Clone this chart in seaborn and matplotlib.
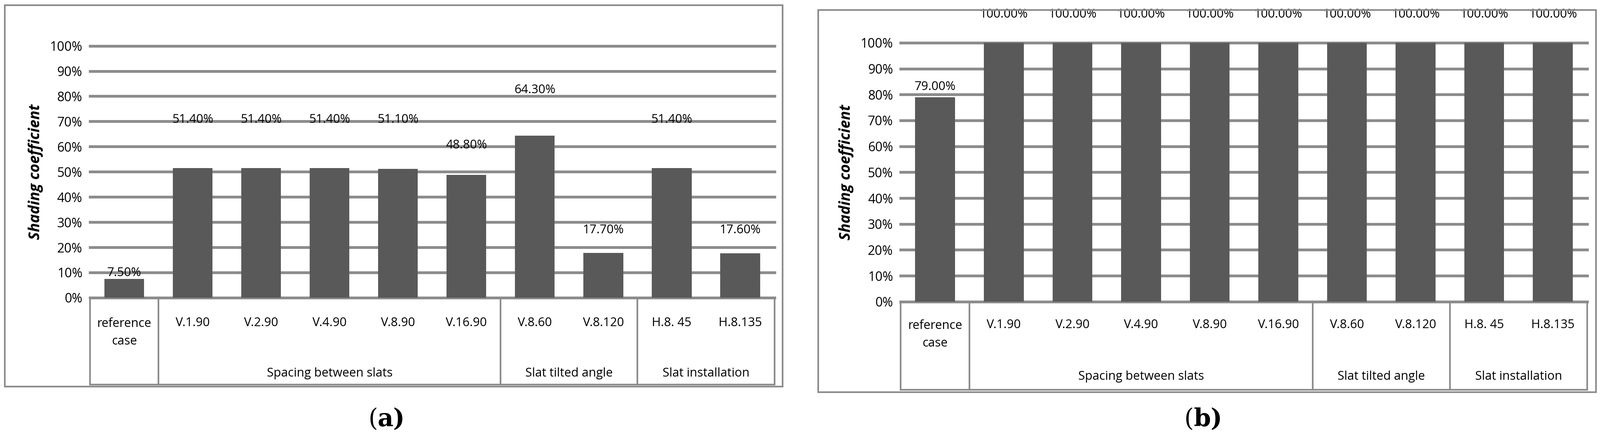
import matplotlib
matplotlib.use("Agg")
import matplotlib.pyplot as plt
import seaborn as sns
import pandas as pd
from matplotlib.patches import Rectangle

categories = ["reference\ncase", "V.1.90", "V.2.90", "V.4.90", "V.8.90", "V.16.90",
              "V.8.60", "V.8.120", "H.8. 45", "H.8.135"]
values_a = [7.5, 51.4, 51.4, 51.4, 51.1, 48.8, 64.3, 17.7, 51.4, 17.6]
values_b = [79.0, 100, 100, 100, 100, 100, 100, 100, 100, 100]
groups = ["Spacing between slats", "Slat tilted angle", "Slat installation"]
group_spans = [(1, 5), (6, 7), (8, 9)]
ytick_labels = [f"{v}%" for v in range(0, 101, 10)]

FONT = "Open Sans"
GRID = "#8c8c8c"
BAR = "#595959"

fig = plt.figure(figsize=(39.99, 11.02), dpi=100)

def panel(rect, border, vals, lab_y, tbl_bottom, cat_y, grp_y, letter_x, letter):
    ax = fig.add_axes(rect)
    df = pd.DataFrame({"cat": categories, "val": vals})
    sns.barplot(data=df, x="cat", y="val", color=BAR, saturation=1, width=0.58, ax=ax, zorder=3)
    ax.set_ylim(0, 100)
    ax.set_xlim(-0.5, 9.5)
    ax.set_yticks(range(0, 101, 10))
    ax.set_yticklabels(ytick_labels, fontsize=23, family=FONT)
    ax.tick_params(axis="y", length=0, pad=14)
    ax.set_xticks([])
    ax.set_xlabel("")
    ax.set_ylabel("Shading coefficient", fontsize=27, fontweight="bold", style="italic",
                  family=FONT, labelpad=12)
    for s in ax.spines.values():
        s.set_visible(False)
    for v in range(0, 101, 10):
        ax.axhline(v, color=GRID, lw=5, zorder=1, clip_on=False)
    for i, (v, ly) in enumerate(zip(vals, lab_y)):
        ax.text(i, ly, f"{v:.2f}%", ha="center", va="center", fontsize=22, family=FONT)
    # table
    for xb in [-0.5, 0.5, 5.5, 7.5, 9.5]:
        ax.plot([xb, xb], [0, tbl_bottom], color=GRID, lw=3, clip_on=False)
    ax.plot([-0.5, 9.5], [tbl_bottom, tbl_bottom], color=GRID, lw=3, clip_on=False)
    for i, c in enumerate(categories):
        if "\n" in c:
            ax.text(i, cat_y + 2, c, ha="center", va="top", fontsize=22, family=FONT,
                    linespacing=1.6)
        else:
            ax.text(i, cat_y, c, ha="center", va="center", fontsize=22, family=FONT)
    for g, (a, b) in zip(groups, group_spans):
        ax.text((a + b) / 2, grp_y, g, ha="center", va="center", fontsize=22, family=FONT)
    fig.add_artist(Rectangle((border[0], border[1]), border[2], border[3],
                             transform=fig.transFigure, fill=False, edgecolor="#8c8c8c", lw=3))
    fig.text(letter_x, 0.05, "(", fontsize=44, family="DejaVu Serif", ha="right", va="center")
    fig.text(letter_x, 0.05, letter, fontsize=44, family="DejaVu Serif", fontweight="bold",
             ha="left", va="center")
    return ax

lab_a = [9.8, 70.7, 70.7, 70.7, 70.7, 60.6, 82.5, 26.8, 70.7, 26.8]
lab_b = [83, 111, 111, 111, 111, 111, 111, 111, 111, 111]

panel([0.0563, 0.325, 0.4277, 0.571], (0.003, 0.123, 0.486, 0.865),
      values_a, lab_a, -34.5, -10, -30, 0.236, "a)")
panel([0.563, 0.316, 0.429, 0.587], (0.5115, 0.111, 0.486, 0.866),
      values_b, lab_b, -34, -9, -29, 0.746, "b)")

fig.savefig("out.png", dpi=100, facecolor="white")
